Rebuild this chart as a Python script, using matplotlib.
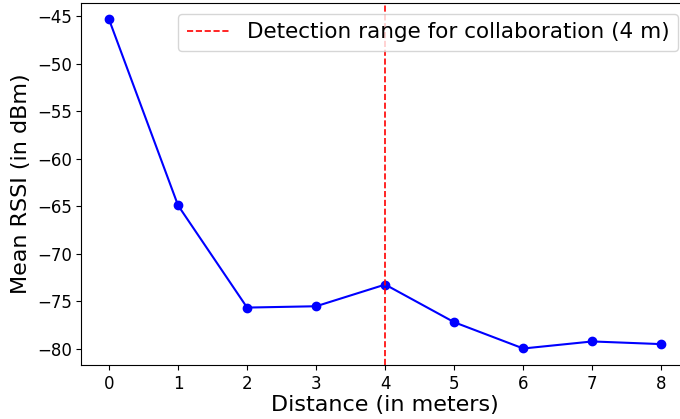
import matplotlib

matplotlib.use("Agg")
import matplotlib.pyplot as plt

distance = [0, 1, 2, 3, 4, 5, 6, 7, 8]
mean_rssi = [-45.35, -64.9, -75.64, -75.5, -73.22, -77.18, -79.94, -79.2, -79.48]
detection_range = 4


def main():
    fig = plt.figure(figsize=(6.8, 4.19), dpi=100)
    # the right side of the axes runs slightly past the figure edge, as in the original
    ax = fig.add_axes([0.1197, 0.129, 0.8935, 0.864])
    ax.plot(distance, mean_rssi, marker="o", color="blue", linewidth=1.5, markersize=6)
    ax.axvline(detection_range, color="red", linestyle="--", linewidth=1.2,
               label=f"Detection range for collaboration ({detection_range} m)")
    ax.set_xticks(distance)
    ax.tick_params(labelsize=12)
    ax.set_xlabel("Distance (in meters)", fontsize=16, labelpad=2)
    ax.set_ylabel("Mean RSSI (in dBm)", fontsize=16)
    ax.legend(fontsize=15.5, loc="upper right")
    fig.savefig("out.png", dpi=100)


if __name__ == "__main__":
    main()
